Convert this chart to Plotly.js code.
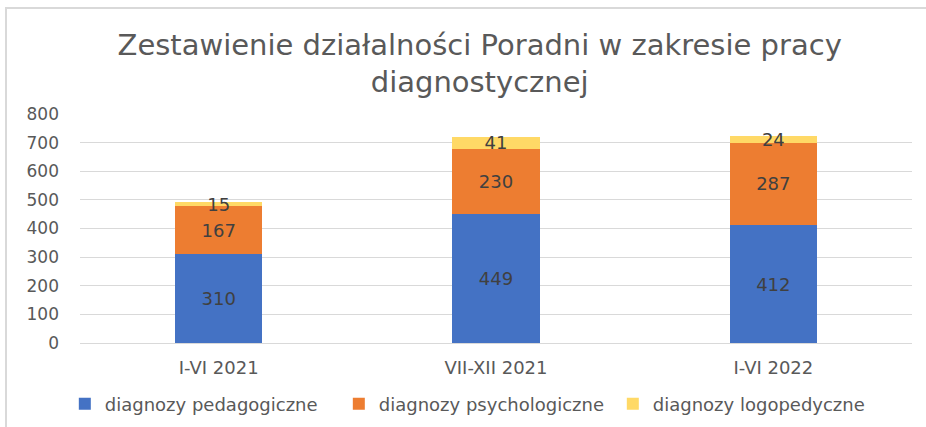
<!DOCTYPE html>
<html>
<head>
<meta charset="utf-8">
<script src="https://cdn.plot.ly/plotly-3.0.1.min.js"></script>
<style>
  html, body { margin: 0; padding: 0; background: #ffffff; }
  #wrap { position: relative; width: 926px; height: 427px; }
  #chart { position: absolute; left: 0; top: 0; width: 926px; height: 427px; }
  #frame { position: absolute; left: 5px; top: 7px; width: 921px; height: 420px;
           border-left: 2px solid #d9d9d9; border-top: 2px solid #d9d9d9; pointer-events: none; }
</style>
</head>
<body>
<div id="wrap">
  <div id="chart"></div>
  <div id="frame"></div>
</div>
<script>
const categories = ["I-VI 2021", "VII-XII 2021", "I-VI 2022"];
const seriesNames = ["diagnozy pedagogiczne", "diagnozy psychologiczne", "diagnozy logopedyczne"];
const pedagogiczne = [310, 449, 412];
const psychologiczne = [167, 230, 287];
const logopedyczne = [15, 41, 24];
const colors = ["#4472C4", "#ED7D31", "#FFD966"];
const titleText = "Zestawienie działalności Poradni w zakresie pracy<br>diagnostycznej";

const FONT = "DejaVu Sans, sans-serif";
const seriesValues = [pedagogiczne, psychologiczne, logopedyczne];

const traces = seriesValues.map((vals, i) => ({
  type: "bar",
  name: seriesNames[i],
  x: categories,
  y: vals,
  marker: { color: colors[i] },
  texttemplate: "%{y}",
  textposition: "inside",
  insidetextanchor: "middle",
  textangle: 0,
  constraintext: "none",
  textfont: { family: FONT, size: 18, color: "#404040" },
  hoverinfo: "x+y+name"
}));

const layout = {
  width: 926,
  height: 427,
  barmode: "stack",
  bargap: 0.686,
  paper_bgcolor: "#ffffff",
  plot_bgcolor: "#ffffff",
  margin: { l: 80, r: 14, t: 114, b: 84 },
  font: { family: FONT, color: "#595959" },
  title: {
    text: titleText,
    font: { family: FONT, size: 29, color: "#595959" },
    x: 0.518,
    xanchor: "center",
    y: 0.872,
    yanchor: "middle",
    automargin: false
  },
  xaxis: {
    type: "category",
    showgrid: false,
    showline: true,
    linecolor: "#d9d9d9",
    linewidth: 1,
    ticks: "",
    tickfont: { family: FONT, size: 18, color: "#595959" },
    ticklabelstandoff: 8,
    automargin: false
  },
  yaxis: {
    range: [0, 800],
    dtick: 100,
    tick0: 0,
    showgrid: true,
    gridcolor: "#d9d9d9",
    gridwidth: 1,
    zeroline: false,
    showline: false,
    ticks: "",
    tickfont: { family: FONT, size: 17, color: "#595959" },
    ticklabelstandoff: 20,
    automargin: false
  },
  showlegend: true,
  legend: {
    orientation: "h",
    xref: "container",
    x: 0.07,
    xanchor: "left",
    yref: "container",
    y: 0.054,
    yanchor: "middle",
    entrywidth: 229,
    entrywidthmode: "pixels",
    itemwidth: 30,
    traceorder: "normal",
    font: { family: FONT, size: 18, color: "#595959" },
    bgcolor: "rgba(0,0,0,0)"
  }
};

Plotly.newPlot("chart", traces, layout, { displayModeBar: false, staticPlot: true });
</script>
</body>
</html>
